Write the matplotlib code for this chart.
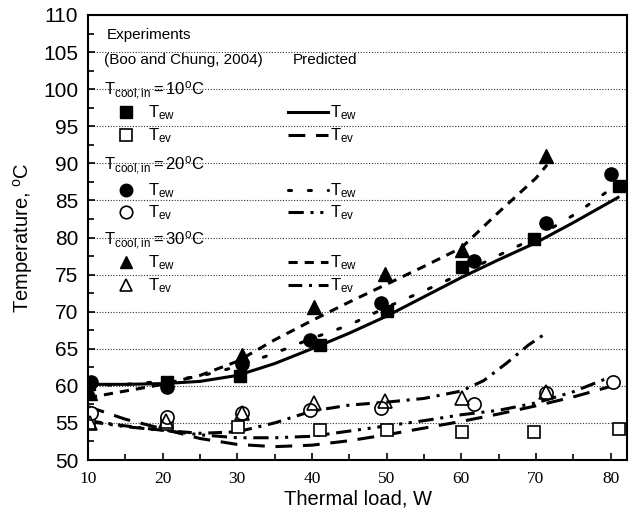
import matplotlib
matplotlib.use("Agg")
import matplotlib.pyplot as plt
from matplotlib.ticker import MultipleLocator

plt.rcParams['font.family'] = ['Liberation Sans', 'DejaVu Sans']
plt.rcParams['mathtext.fontset'] = 'custom'
plt.rcParams['mathtext.rm'] = 'Liberation Sans'
plt.rcParams['mathtext.it'] = 'Liberation Sans'

# experiments (Boo and Chung, 2004)
x_ew10 = [10.2, 20.6, 30.3, 41.1, 50.1, 60.1, 69.8, 81.1]
y_ew10 = [60.3, 60.5, 61.3, 65.5, 70.1, 76.0, 79.8, 86.9]
x_ev10 = [10.2, 20.6, 30.1, 41.1, 50.0, 60.1, 69.7, 81.1]
y_ev10 = [55.0, 54.8, 54.4, 54.0, 54.0, 53.8, 53.8, 54.2]

x_ew20 = [10.4, 20.6, 30.6, 39.7, 49.2, 61.7, 71.4, 80.1]
y_ew20 = [60.5, 59.9, 63.0, 66.2, 71.2, 76.8, 82.0, 88.6]
x_ev20 = [10.4, 20.6, 30.6, 39.7, 49.2, 61.7, 71.4, 80.3]
y_ev20 = [56.3, 55.8, 56.4, 56.7, 57.0, 57.6, 59.0, 60.5]

x_ew30 = [10.3, 30.6, 40.3, 49.8, 60.1, 71.4]
y_ew30 = [59.0, 64.1, 70.6, 75.1, 78.3, 91.0]
x_ev30 = [10.3, 20.4, 30.6, 40.3, 49.8, 60.1, 71.4]
y_ev30 = [55.0, 55.3, 56.4, 57.7, 57.9, 58.4, 59.2]

# predicted
p_x_ew10 = [10, 15, 20, 25, 30, 35, 40, 45, 50, 55, 60, 65, 70, 75, 81]
p_y_ew10 = [60.2, 60.2, 60.3, 60.6, 61.4, 63.0, 65.0, 67.1, 69.4, 72.0, 74.6, 77.0, 79.3, 82.0, 85.4]
p_x_ev10 = [10, 15, 20, 25, 30, 35, 40, 45, 50, 55, 60, 65, 70, 75, 81]
p_y_ev10 = [57.2, 55.5, 54.2, 52.9, 52.1, 51.8, 52.0, 52.6, 53.4, 54.3, 55.2, 56.2, 57.3, 58.5, 60.2]

p_x_ew20 = [10, 15, 20, 25, 30, 35, 40, 45, 50, 55, 60, 65, 70, 75, 80]
p_y_ew20 = [60.0, 60.2, 60.6, 61.3, 62.6, 64.4, 66.4, 68.2, 70.6, 72.8, 75.1, 77.6, 80.0, 83.0, 86.5]
p_x_ev20 = [10, 15, 20, 25, 30, 35, 40, 45, 50, 55, 60, 65, 70, 75, 80]
p_y_ev20 = [55.2, 54.5, 54.0, 53.4, 53.0, 53.0, 53.2, 53.9, 54.6, 55.3, 56.1, 56.7, 57.7, 59.2, 61.2]

p_x_ew30 = [10, 15, 20, 25, 30, 35, 40, 45, 50, 55, 60, 65, 70, 71.5]
p_y_ew30 = [58.4, 59.3, 60.2, 61.4, 63.3, 66.2, 68.8, 71.3, 73.7, 76.1, 78.6, 83.4, 88.0, 89.8]
p_x_ev30 = [10, 15, 20, 25, 30, 35, 40, 45, 50, 55, 60, 63, 66, 69, 71.5]
p_y_ev30 = [55.3, 54.6, 54.0, 53.6, 53.8, 55.0, 56.6, 57.4, 57.8, 58.3, 59.3, 60.7, 63.0, 65.5, 67.2]

ls_ew10 = '-'
ls_ev10 = (0, (5.5, 3.5))
ls_ew20 = (0, (1.0, 5.5))
ls_ev20 = (0, (5, 2.2, 1, 2.2, 1, 2.2))
ls_ew30 = (0, (3, 2.3))
ls_ev30 = (0, (4.5, 2.2, 1, 2.2))
lw = 2.2

fig = plt.figure(figsize=(6.34, 5.16), dpi=100)
ax = fig.add_axes([88 / 634, 56 / 516, 539 / 634, 445 / 516])

ax.plot(p_x_ew10, p_y_ew10, color='black', linestyle=ls_ew10, linewidth=lw)
ax.plot(p_x_ev10, p_y_ev10, color='black', linestyle=ls_ev10, linewidth=lw)
ax.plot(p_x_ew20, p_y_ew20, color='black', linestyle=ls_ew20, linewidth=lw, dash_capstyle='round')
ax.plot(p_x_ev20, p_y_ev20, color='black', linestyle=ls_ev20, linewidth=lw)
ax.plot(p_x_ew30, p_y_ew30, color='black', linestyle=ls_ew30, linewidth=lw)
ax.plot(p_x_ev30, p_y_ev30, color='black', linestyle=ls_ev30, linewidth=lw)

ms = 9
ax.plot(x_ew10, y_ew10, 's', color='black', markersize=ms - 0.5, linestyle='none')
ax.plot(x_ev10, y_ev10, 's', markerfacecolor='white', markeredgecolor='black', markeredgewidth=1.2,
        markersize=ms - 0.5, linestyle='none')
ax.plot(x_ew20, y_ew20, 'o', color='black', markersize=ms + 0.5, linestyle='none')
ax.plot(x_ev20, y_ev20, 'o', markerfacecolor='white', markeredgecolor='black', markeredgewidth=1.2,
        markersize=ms + 0.5, linestyle='none')
ax.plot(x_ew30, y_ew30, '^', color='black', markersize=ms + 0.5, linestyle='none')
ax.plot(x_ev30, y_ev30, '^', markerfacecolor='none', markeredgecolor='black', markeredgewidth=1.2,
        markersize=ms + 0.5, linestyle='none')

ax.set_xlim(10, 82.2)
ax.set_ylim(50, 110)
ax.xaxis.set_major_locator(MultipleLocator(10))
ax.xaxis.set_minor_locator(MultipleLocator(5))
ax.yaxis.set_major_locator(MultipleLocator(5))
ax.yaxis.set_minor_locator(MultipleLocator(2.5))
ax.tick_params(which='both', direction='in', top=False, right=False, width=1.2)
ax.tick_params(which='major', length=5)
ax.tick_params(which='minor', length=4)
ax.tick_params(axis='y', labelsize=15, pad=7)
ax.tick_params(axis='x', labelsize=12.5, pad=8)
for lab in ax.get_xticklabels():
    lab.set_family('Liberation Serif')
for s in ax.spines.values():
    s.set_linewidth(1.5)

ax.grid(axis='y', which='major', linestyle=(0, (1, 1.5)), linewidth=0.8, color='#333333')

ax.set_xlabel('Thermal load, W', fontsize=14.5, labelpad=2)
ax.set_ylabel(r'Temperature, $\mathregular{^oC}$', fontsize=14.5, labelpad=6)

# legend drawn by hand in axes fraction
tr = ax.transAxes
fs = 11
ax.text(0.035, 0.955, 'Experiments', transform=tr, fontsize=fs, va='center')
ax.text(0.030, 0.899, '(Boo and Chung, 2004)', transform=tr, fontsize=fs, va='center')
ax.text(0.380, 0.899, 'Predicted', transform=tr, fontsize=fs, va='center')

headers = ['10', '20', '30']
header_y = [0.831, 0.663, 0.494]
row_y = [(0.782, 0.730), (0.607, 0.557), (0.445, 0.393)]
mk = ['s', 'o', '^']
pred_ls = [(ls_ew10, ls_ev10), (ls_ew20, ls_ev20), (ls_ew30, ls_ev30)]
for i in range(3):
    ax.text(0.030, header_y[i] - 0.012, r'$\mathregular{T_{cool,in}=' + headers[i] + '^oC}$',
            transform=tr, fontsize=12, va='baseline')
    for j in range(2):
        yy = row_y[i][j]
        if j == 0:
            ax.plot([0.0705], [yy], mk[i], color='black', markersize=ms if i else ms - 0.5, transform=tr,
                    clip_on=False)
        else:
            ax.plot([0.0705], [yy], mk[i], markerfacecolor='white', markeredgecolor='black',
                    markeredgewidth=1.2, markersize=ms if i else ms - 0.5, transform=tr, clip_on=False)
        sub = 'ew' if j == 0 else 'ev'
        ax.text(0.112, yy - 0.012, r'$\mathregular{T_{' + sub + '}}$', transform=tr, fontsize=12,
                va='baseline')
        ax.plot([0.371, 0.445], [yy, yy], color='black', linestyle=pred_ls[i][j], linewidth=lw,
                transform=tr, dash_capstyle='round' if (i == 1 and j == 0) else 'butt')
        ax.text(0.449, yy - 0.012, r'$\mathregular{T_{' + sub + '}}$', transform=tr, fontsize=12,
                va='baseline')

fig.savefig('out.png', dpi=100)
